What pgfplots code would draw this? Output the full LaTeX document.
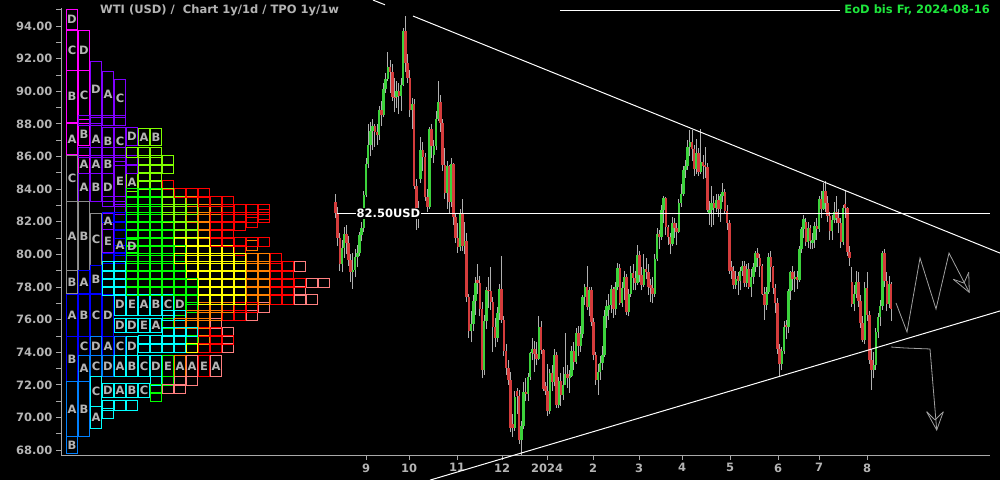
\documentclass[border=0pt]{standalone}
\usepackage{pgfplots}
\pgfplotsset{compat=1.18}
\usepackage{pgfplotstable}
\usepackage{fontspec}
\setmainfont{DejaVu Sans}
\setsansfont{DejaVu Sans}
\definecolor{axgray}{HTML}{A8A8A8}
\definecolor{lblgray}{HTML}{B4B4B4}
\definecolor{cgreen}{HTML}{3CD23C}
\definecolor{cred}{HTML}{D43C3C}
\definecolor{wickgray}{HTML}{B0B0B0}
\definecolor{eodgreen}{HTML}{1EE63C}
\definecolor{arrgray}{HTML}{A0A0A0}
\definecolor{tgr}{HTML}{8C8C8C}
\definecolor{tmg}{HTML}{FF00FF}
\definecolor{tvi}{HTML}{8000FF}
\definecolor{tbl}{HTML}{0000FF}
\definecolor{taz}{HTML}{0080FF}
\definecolor{tcy}{HTML}{00FFFF}
\definecolor{tgn}{HTML}{00FF00}
\definecolor{tch}{HTML}{80FF00}
\definecolor{tye}{HTML}{FFFF00}
\definecolor{tog}{HTML}{FF8000}
\definecolor{trd}{HTML}{FF0000}
\definecolor{tpk}{HTML}{FF8080}
\newcommand\txtfont{\fontsize{11.5}{13}\selectfont\bfseries}
\newcommand\tpoltr[1]{\color{lblgray}\txtfont #1}

\newcommand\tpocellsrow[1]{\foreach \k in {1,...,#1}{\pgfpathrectangle{\pgfpoint{(\k-1)*12pt+0.25pt}{-4.75pt}}{\pgfpoint{11.5pt}{9.5pt}}\pgfusepathqstroke}}
\pgfdeclareplotmark{tpo1}{\tpocellsrow{1}}
\pgfdeclareplotmark{tpo2}{\tpocellsrow{2}}
\pgfdeclareplotmark{tpo3}{\tpocellsrow{3}}
\pgfdeclareplotmark{tpo4}{\tpocellsrow{4}}
\pgfdeclareplotmark{tpo5}{\tpocellsrow{5}}
\pgfdeclareplotmark{tpo6}{\tpocellsrow{6}}
\pgfplotsset{tpogridplot/.style={scatter, only marks, mark=#1, line width=0.9pt,
  scatter src=explicit symbolic,
  scatter/classes={
  gr={draw=tgr}, mg={draw=tmg}, vi={draw=tvi},
  bl={draw=tbl}, az={draw=taz}, cy={draw=tcy},
  gn={draw=tgn}, ch={draw=tch}, ye={draw=tye},
  og={draw=tog}, rd={draw=trd}, pk={draw=tpk}}}}
\newcommand\tb[5]{\addplot[draw=#5,fill=black,line width=0.9pt,mark=none] coordinates {(#1,#3) (#2,#3) (#2,#4) (#1,#4) (#1,#3)};}

\pgfplotstableread{
i o h l c
0 83.19 83.70 82.20 82.51
1 82.51 82.90 80.50 80.99
2 80.99 81.30 79.00 79.38
3 79.38 80.90 78.90 80.39
4 80.39 81.70 79.80 81.25
5 81.25 81.80 80.00 80.72
6 80.72 81.10 79.30 79.64
7 79.64 80.00 78.30 78.89
8 78.89 80.10 77.90 79.05
9 79.05 80.30 78.60 79.83
10 79.83 80.60 79.20 80.10
11 80.10 81.40 79.90 81.16
12 81.16 82.00 80.80 81.63
13 81.63 83.90 81.40 83.63
14 83.63 85.90 83.50 85.55
15 85.55 88.00 85.30 86.69
16 86.69 88.10 86.00 87.54
17 87.54 88.30 86.40 87.87
18 87.87 88.00 86.60 87.51
19 87.51 88.00 86.70 87.29
20 87.29 89.10 87.00 88.84
21 88.84 89.40 87.90 88.52
22 88.52 90.50 88.40 90.16
23 90.16 91.10 89.90 90.77
24 90.77 92.40 90.60 91.48
25 91.48 91.90 89.90 91.20
26 91.20 91.70 89.40 89.66
27 89.66 90.80 88.70 89.63
28 89.63 90.60 89.00 90.03
29 90.03 90.50 88.60 89.68
30 89.68 90.80 88.80 90.39
31 90.39 93.90 90.30 93.68
32 93.68 94.60 91.20 91.71
33 91.71 92.30 90.50 90.79
34 90.79 91.30 88.40 88.82
35 88.82 89.60 87.70 89.23
36 89.23 89.50 84.00 84.22
37 84.22 84.60 81.50 82.31
38 82.31 83.30 81.60 82.79
39 84.60 87.20 84.40 86.38
40 86.38 86.90 85.10 85.97
41 85.97 86.20 83.30 83.49
42 83.49 84.00 82.60 82.91
43 82.91 87.80 82.80 87.69
44 87.69 88.00 85.90 86.66
45 86.10 87.00 85.60 86.66
46 86.66 88.80 86.40 88.32
47 88.32 90.60 88.20 89.37
48 89.37 89.80 87.50 88.08
49 88.08 88.30 85.10 85.49
50 85.49 86.50 83.40 83.74
51 83.74 85.70 82.80 85.39
52 85.39 85.50 82.50 83.21
53 83.21 85.90 82.90 85.54
54 85.54 85.60 81.80 82.31
55 82.31 82.50 80.70 81.02
56 81.02 81.90 80.10 80.44
57 80.44 82.80 80.20 82.46
58 82.46 83.40 80.20 80.51
59 80.51 82.00 80.00 80.82
60 80.82 81.30 77.10 77.37
61 77.37 77.60 74.90 75.33
62 75.33 76.50 74.60 75.74
63 75.74 77.50 75.30 77.17
64 77.17 78.60 76.30 78.26
65 78.40 79.40 77.60 78.26
66 78.26 78.70 76.20 76.66
67 76.66 77.10 72.40 72.90
68 72.90 76.30 72.60 75.89
69 75.89 78.00 75.40 77.83
70 77.83 78.60 76.70 77.77
71 77.77 79.20 76.60 77.10
72 77.10 77.40 74.00 75.54
73 75.54 76.10 74.30 74.86
74 74.86 76.80 74.60 76.41
75 76.41 78.20 76.00 77.86
76 77.86 79.90 75.80 75.96
77 75.96 76.20 73.80 74.07
78 74.07 74.50 72.60 73.04
79 73.04 73.50 72.00 72.32
80 72.32 72.80 69.10 69.38
81 69.60 70.20 68.80 69.34
82 69.34 71.60 69.20 71.23
83 71.60 71.80 70.20 71.32
84 71.32 71.70 68.40 68.61
85 68.61 69.80 67.70 69.47
86 69.47 72.20 69.30 71.58
87 71.58 72.40 71.00 71.43
88 71.43 72.70 71.00 72.47
89 72.47 74.00 72.30 73.94
90 73.94 74.90 73.50 74.22
91 74.22 74.70 72.80 73.89
92 73.89 74.60 73.20 73.56
93 73.56 76.20 73.50 75.57
94 75.57 75.90 73.90 74.11
95 74.11 74.20 71.60 71.77
96 71.90 72.20 71.40 71.65
97 71.65 73.30 70.10 70.38
98 70.38 73.00 70.20 72.70
99 72.70 73.20 71.60 72.19
100 72.19 74.20 71.90 73.81
101 73.81 74.00 70.60 70.77
102 70.77 72.50 70.60 72.24
103 72.24 72.70 70.70 71.37
104 71.37 73.10 71.10 72.02
105 72.02 75.20 72.00 72.68
106 72.68 73.20 71.80 72.40
107 72.40 72.90 71.50 72.56
108 72.56 74.40 72.50 74.08
109 74.08 74.60 72.90 73.41
110 73.41 75.50 73.30 75.19
111 75.19 75.60 73.80 74.37
112 74.37 75.60 74.00 75.09
113 75.09 77.50 74.90 77.36
114 77.36 78.20 76.90 78.01
115 78.01 79.30 76.60 76.78
116 76.78 78.00 76.20 77.82
117 77.82 78.00 75.60 75.85
118 75.85 76.10 73.50 73.82
119 73.82 74.00 72.00 72.28
120 72.28 73.30 71.40 72.78
121 72.78 73.80 72.30 73.31
122 73.31 74.40 72.90 73.86
123 73.86 76.60 73.70 76.22
124 76.22 77.20 75.50 76.84
125 76.60 77.60 76.00 76.92
126 76.92 78.10 76.40 77.87
127 77.87 78.00 76.10 76.64
128 76.64 78.30 76.30 78.03
129 78.03 79.50 77.80 79.19
130 79.19 79.40 76.90 77.04
131 77.04 78.30 76.80 77.91
132 77.91 79.00 77.20 78.61
133 78.61 78.80 76.30 76.49
134 76.49 77.90 76.20 77.58
135 77.58 79.30 77.40 78.87
136 78.87 79.40 77.80 78.54
137 78.54 79.00 77.80 78.26
138 78.26 80.60 78.10 79.97
139 79.97 80.20 78.30 78.74
140 78.74 79.20 77.80 78.15
141 78.15 80.00 78.00 79.13
142 79.13 79.80 78.50 78.93
143 78.93 79.40 77.50 78.01
144 78.10 78.50 77.10 77.93
145 77.93 78.60 77.00 77.56
146 77.56 80.00 77.40 79.72
147 79.72 81.60 79.60 81.26
148 81.26 81.50 80.30 81.04
149 81.04 83.00 80.90 82.72
150 82.72 83.60 81.90 83.47
151 83.47 83.50 81.20 81.68
152 81.68 81.80 80.60 81.07
153 81.07 81.30 80.00 80.63
154 80.63 82.30 80.50 81.95
155 81.95 82.20 81.00 81.62
156 81.62 81.90 80.60 81.35
157 81.35 83.40 81.30 83.17
158 83.17 84.30 82.90 83.71
159 83.71 85.40 83.60 85.15
160 85.15 85.80 84.70 85.43
161 85.43 87.00 85.20 86.59
162 86.59 87.60 86.00 86.91
163 86.91 87.60 85.70 86.43
164 86.43 86.70 84.80 85.23
165 85.23 87.10 84.90 86.21
166 86.21 86.50 84.80 85.02
167 85.02 87.70 84.90 85.66
168 85.66 86.10 84.60 85.41
169 85.50 86.60 84.70 85.36
170 85.36 85.60 82.60 82.69
171 82.50 83.30 81.80 82.73
172 82.73 84.20 81.70 83.14
173 83.14 83.60 81.80 82.85
174 82.85 83.70 82.60 83.36
175 83.36 83.70 82.30 82.81
176 82.81 83.70 82.00 83.57
177 83.57 84.40 83.20 83.85
178 83.85 84.00 82.50 82.63
179 82.63 83.00 81.50 81.93
180 81.93 82.10 78.80 79.00
181 79.20 79.60 78.50 78.95
182 78.95 79.30 77.90 78.11
183 78.11 79.00 77.90 78.48
184 78.70 78.90 77.50 78.38
185 78.38 79.20 77.80 78.99
186 78.99 79.60 78.70 79.26
187 79.26 79.60 78.00 78.26
188 78.26 79.40 78.00 79.12
189 79.12 79.50 77.90 78.02
190 78.02 79.10 77.40 78.63
191 78.63 79.50 78.20 79.23
192 79.23 80.20 78.90 80.06
193 80.06 80.40 79.20 79.80
194 79.80 80.00 78.60 79.26
195 79.26 79.40 77.50 77.57
196 77.57 78.00 76.00 76.87
197 76.87 78.00 76.60 77.72
198 77.72 80.10 77.60 79.83
199 79.83 80.20 78.30 79.23
200 79.23 79.30 77.60 77.91
201 77.91 78.20 76.40 76.99
202 76.99 77.30 73.90 74.22
203 74.22 74.50 72.50 73.25
204 73.25 74.30 72.90 74.07
205 74.07 75.90 73.90 75.55
206 75.70 76.00 74.80 75.53
207 75.53 77.90 75.20 77.74
208 77.74 79.00 77.20 78.90
209 78.90 79.30 77.80 78.50
210 78.50 79.00 77.70 78.62
211 78.62 79.00 77.90 78.45
212 78.45 80.50 78.30 80.33
213 80.33 81.70 80.10 81.57
214 81.57 82.40 81.00 82.17
215 82.00 82.20 80.50 80.73
216 80.73 82.00 80.40 81.63
217 81.63 81.80 80.30 80.83
218 80.70 81.30 80.30 80.90
219 80.90 82.00 80.40 81.74
220 81.74 82.20 80.90 81.54
221 81.54 83.60 81.40 83.38
222 83.38 83.90 82.20 82.81
223 82.81 84.40 82.70 83.88
224 83.88 84.50 82.60 83.16
225 83.16 83.60 82.00 82.33
226 82.33 82.60 80.90 81.41
227 81.41 82.40 80.90 82.10
228 82.10 83.20 81.90 82.62
229 82.62 83.60 81.90 82.21
230 82.21 82.80 81.30 81.91
231 81.91 82.20 80.40 80.76
232 80.76 83.00 80.60 82.85
233 83.10 83.90 82.20 82.82
234 82.82 82.90 79.90 80.13
235 80.13 80.50 79.30 79.78
236 78.30 79.20 76.80 76.96
237 76.96 78.10 76.50 77.59
238 77.59 79.00 77.30 78.28
239 78.28 78.90 76.80 77.16
240 77.16 77.50 75.50 75.81
241 75.81 76.20 74.60 74.73
242 74.73 78.30 74.50 77.91
243 77.91 78.90 75.90 76.31
244 76.31 76.50 73.30 73.52
245 73.52 74.20 71.70 72.94
246 72.94 74.00 72.40 73.20
247 73.20 75.50 72.90 75.23
248 75.23 76.40 74.90 76.19
249 76.19 77.20 75.60 76.84
250 76.84 80.20 76.60 80.06
251 80.06 80.30 78.00 78.35
252 78.35 78.90 76.50 76.98
253 76.98 78.70 76.70 78.16
254 78.16 78.30 75.90 76.65
}\candles
\pgfplotstablecreatecol[create col/expr={335.4+2.188*\thisrow{i}}]{xx}\candles
\pgfplotstablecreatecol[create col/expr={\thisrow{h}-\thisrow{l}}]{rng}\candles
\pgfplotstablecreatecol[create col/expr={min(\thisrow{o},\thisrow{c})}]{bot}\candles
\pgfplotstablecreatecol[create col/expr={max(\thisrow{c}-\thisrow{o},0)}]{up}\candles
\pgfplotstablecreatecol[create col/expr={max(\thisrow{o}-\thisrow{c},0)}]{dn}\candles

% TPO grid runs, grouped by run length (x = left edge, y = centre of row)
\pgfplotstableread{
x y k
162 84.25 rd
162 83.75 ch
186 83.25 og
114 82.75 vi
114 81.75 bl
198 81.75 og
114 81.25 bl
198 81.25 og
114 80.25 bl
234 80.25 rd
270 79.75 rd
294 79.25 pk
294 77.75 pk
186 77.25 gn
186 76.75 gn
258 76.75 pk
246 76.25 pk
162 75.75 gn
210 75.75 pk
222 75.25 pk
186 74.75 gn
198 74.75 og
186 74.25 ye
222 74.25 pk
150 72.25 cy
162 72.25 gn
150 71.75 gn
150 71.25 gn
102 70.25 cy
126 85.25 vi
258 82.45 rd
246 81.95 rd
246 80.55 og
}\tpoone
\pgfplotstableread{
x y k
114 85.75 vi
138 84.75 ch
138 84.25 ch
102 83.25 vi
162 83.25 ch
198 82.75 og
102 82.25 bl
162 82.25 ch
186 82.25 og
174 81.75 ch
174 81.25 ch
210 81.25 rd
102 79.75 bl
246 79.75 og
102 79.25 cy
246 79.25 og
270 79.25 rd
102 78.75 cy
246 78.75 og
270 78.75 rd
102 78.25 cy
246 78.25 og
306 78.25 pk
102 77.75 cy
246 77.75 og
270 77.75 rd
246 77.25 og
270 77.25 rd
294 77.25 pk
234 76.75 rd
162 76.25 cy
222 76.25 rd
198 75.25 rd
210 74.75 rd
198 74.25 rd
174 72.25 pk
162 71.75 pk
}\tpotwo
\pgfplotstableread{
x y k
126 86.25 ch
138 85.75 ch
138 85.25 ch
126 83.75 gn
174 83.75 rd
126 83.25 gn
198 83.25 rd
126 82.75 gn
162 82.75 ch
126 82.25 gn
210 81.75 rd
174 80.75 ye
198 76.75 og
186 76.25 og
174 75.75 og
162 75.25 cy
102 70.75 cy
270 78.25 rd
}\tpothree
\pgfplotstableread{
x y k
78 88.2 vi
78 86.25 vi
222 82.75 rd
126 81.75 gn
126 81.25 gn
126 80.75 gn
186 80.25 ye
126 79.75 gn
198 78.25 ye
198 77.75 ye
198 77.25 ye
138 74.75 cy
138 74.25 cy
}\tpofour
\pgfplotstableread{
x y k
210 82.25 rd
210 80.75 rd
126 80.25 gn
126 79.25 gn
186 79.25 ye
126 78.75 gn
186 78.75 ye
}\tpofive
\pgfplotstableread{
x y k
174 79.75 ye
126 78.25 gn
126 77.75 gn
}\tposix

% letters of the TPO boxes (x = box centre, y = box centre)
\pgfplotstableread{
x y L
72 94.4 D
72 92.505 C
72 89.665 B
72 87.08 A
72 84.66 C
72 81.115 A
72 78.3 B
72 76.25 A
72 73.57 B
72 70.505 A
72 68.31 B
84 92.505 D
84 89.78 C
84 87.365 B
84 85.53 A
84 84.10 A
84 81.115 B
84 78.3 A
84 76.25 B
84 74.385 C
84 73.005 A
84 70.505 B
96 90.125 D
96 87.06 A
96 85.53 A
96 84.10 B
96 80.935 C
96 78.475 B
96 76.25 C
96 74.385 D
96 73.16 C
96 71.58 C
96 69.995 A
108 89.8 A
108 86.945 B
108 85.53 B
108 84.10 D
108 82.01 A
108 80.8 E
108 76.25 D
108 74.385 A
108 73.16 D
108 71.675 D
120 89.55 C
120 86.945 C
120 84.455 E
120 80.55 A
120 76.91 D
120 75.65 D
120 74.385 C
120 73.16 A
120 71.675 A
132 87.25 D
132 84.405 A
132 80.5 D
132 76.91 E
132 75.65 D
132 74.385 D
132 73.16 B
132 71.675 B
144 87.2 A
144 76.91 A
144 75.65 E
144 73.16 C
144 71.675 C
156 87.2 B
156 76.91 B
156 75.65 A
156 73.16 D
168 76.91 C
168 73.16 E
180 76.91 D
180 73.16 A
192 73.16 A
204 73.16 E
216 73.16 A
}\tpoletters

\begin{document}
\begin{tikzpicture}
\useasboundingbox (0,0) rectangle (1000pt,480pt);
\fill[black] (0,0) rectangle (1000pt,480pt);
\begin{axis}[
  at={(61pt,25pt)}, anchor=south west,
  scale only axis, width=929pt, height=455pt,
  xmin=61, xmax=990, ymin=67.70, ymax=95.594,
  clip=false,
  axis x line*=bottom, axis y line*=left,
  axis line style={draw=axgray, line width=1pt},
  tick align=outside,
  major tick length=5pt, minor tick length=5pt,
  tick style={draw=axgray, line width=0.8pt},
  ytick={68,70,...,94}, minor ytick={69,71,...,95},
  yticklabel style={text=lblgray, font=\txtfont, /pgf/number format/.cd, fixed, fixed zerofill, precision=2, assume math mode=true},
  xtick={366,409,457,502,547,593,639,682,730,778,819,867},
  xticklabels={9,10,11,12,2024,2,3,4,5,6,7,8},
  xticklabel style={text=lblgray, font=\txtfont},
]
% hide the top of the y axis line above 95
\addplot[black, line width=3pt, mark=none] coordinates {(61,95.08) (61,95.7)};
% TPO grid
\addplot[tpogridplot=tpo1] table[x=x, y=y, meta=k]{\tpoone};
\addplot[tpogridplot=tpo2] table[x=x, y=y, meta=k]{\tpotwo};
\addplot[tpogridplot=tpo3] table[x=x, y=y, meta=k]{\tpothree};
\addplot[tpogridplot=tpo4] table[x=x, y=y, meta=k]{\tpofour};
\addplot[tpogridplot=tpo5] table[x=x, y=y, meta=k]{\tpofive};
\addplot[tpogridplot=tpo6] table[x=x, y=y, meta=k]{\tposix};

% TPO letter boxes: x0 x1 ylow yhigh colour
\tb{66.25}{77.75}{93.8}{95.0}{tmg}
\tb{66.25}{77.75}{91.26}{93.75}{tmg}
\tb{66.25}{77.75}{88.07}{91.26}{tmg}
\tb{66.25}{77.75}{86.13}{88.03}{tmg}
\tb{66.25}{77.75}{83.23}{86.09}{tgr}
\tb{66.25}{77.75}{79.0}{83.23}{tgr}
\tb{66.25}{77.75}{77.6}{79.0}{tgr}
\tb{66.25}{77.75}{74.95}{77.55}{tbl}
\tb{66.25}{77.75}{72.19}{74.95}{tbl}
\tb{66.25}{77.75}{68.82}{72.19}{taz}
\tb{66.25}{77.75}{67.8}{68.82}{taz}
\tb{78.25}{89.75}{91.26}{93.75}{tmg}
\tb{78.25}{89.75}{88.3}{91.26}{tmg}
\tb{78.25}{89.75}{86.7}{88.03}{tmg}
\tb{78.25}{89.75}{84.97}{86.09}{tmg}
\tb{78.25}{89.75}{83.23}{84.97}{tvi}
\tb{78.25}{89.75}{79.0}{83.23}{tgr}
\tb{78.25}{89.75}{77.6}{79.0}{tbl}
\tb{78.25}{89.75}{74.95}{77.55}{tbl}
\tb{78.25}{89.75}{73.82}{74.95}{tbl}
\tb{78.25}{89.75}{72.19}{73.82}{taz}
\tb{78.25}{89.75}{68.82}{72.19}{taz}
\tb{90.25}{101.75}{88.4}{91.85}{tvi}
\tb{90.25}{101.75}{86.09}{88.03}{tvi}
\tb{90.25}{101.75}{84.97}{86.09}{tvi}
\tb{90.25}{101.75}{83.23}{84.97}{tvi}
\tb{90.25}{101.75}{79.35}{82.52}{tgr}
\tb{90.25}{101.75}{77.6}{79.35}{tbl}
\tb{90.25}{101.75}{74.95}{77.55}{tbl}
\tb{90.25}{101.75}{73.82}{74.95}{taz}
\tb{90.25}{101.75}{72.5}{73.82}{taz}
\tb{90.25}{101.75}{70.66}{72.5}{tcy}
\tb{90.25}{101.75}{69.33}{70.66}{tcy}
\tb{102.25}{113.75}{88.4}{91.2}{tvi}
\tb{102.25}{113.75}{86.09}{87.8}{tvi}
\tb{102.25}{113.75}{84.97}{86.09}{tvi}
\tb{102.25}{113.75}{83.23}{84.97}{tvi}
\tb{102.25}{113.75}{81.5}{82.52}{tvi}
\tb{102.25}{113.75}{80.1}{81.5}{tvi}
\tb{102.25}{113.75}{74.95}{77.55}{tbl}
\tb{102.25}{113.75}{73.82}{74.95}{tbl}
\tb{102.25}{113.75}{72.5}{73.82}{taz}
\tb{102.25}{113.75}{71.25}{72.1}{tcy}
\tb{114.25}{125.75}{88.4}{90.7}{tvi}
\tb{114.25}{125.75}{86.09}{87.8}{tvi}
\tb{114.25}{125.75}{83.23}{85.68}{tvi}
\tb{114.25}{125.75}{80.1}{81.0}{tbl}
\tb{114.25}{125.75}{76.27}{77.55}{tcy}
\tb{114.25}{125.75}{75.2}{76.1}{tcy}
\tb{114.25}{125.75}{73.82}{74.95}{taz}
\tb{114.25}{125.75}{72.5}{73.82}{tcy}
\tb{114.25}{125.75}{71.25}{72.1}{tcy}
\tb{126.25}{137.75}{86.7}{87.8}{tvi}
\tb{126.25}{137.75}{83.84}{84.97}{tch}
\tb{126.25}{137.75}{80.1}{80.9}{tgn}
\tb{126.25}{137.75}{76.27}{77.55}{tcy}
\tb{126.25}{137.75}{75.2}{76.1}{tcy}
\tb{126.25}{137.75}{73.82}{74.95}{tcy}
\tb{126.25}{137.75}{72.5}{73.82}{tcy}
\tb{126.25}{137.75}{71.25}{72.1}{tcy}
\tb{138.25}{149.75}{86.7}{87.7}{tch}
\tb{138.25}{149.75}{76.27}{77.55}{tcy}
\tb{138.25}{149.75}{75.2}{76.1}{tcy}
\tb{138.25}{149.75}{72.5}{73.82}{tcy}
\tb{138.25}{149.75}{71.25}{72.1}{tcy}
\tb{150.25}{161.75}{86.7}{87.7}{tch}
\tb{150.25}{161.75}{76.27}{77.55}{tcy}
\tb{150.25}{161.75}{75.2}{76.1}{tcy}
\tb{150.25}{161.75}{72.5}{73.82}{tcy}
\tb{162.25}{173.75}{76.27}{77.55}{tcy}
\tb{162.25}{173.75}{72.5}{73.82}{tgn}
\tb{174.25}{185.75}{76.27}{77.55}{tgn}
\tb{174.25}{185.75}{72.5}{73.82}{tog}
\tb{186.25}{197.75}{72.5}{73.82}{tpk}
\tb{198.25}{209.75}{72.5}{73.82}{trd}
\tb{210.25}{221.75}{72.5}{73.82}{tpk}

% letters
\addplot[scatter, only marks, scatter src=explicit symbolic,
  scatter/classes={
    A={mark=text, text mark={\tpoltr{A}}},
    B={mark=text, text mark={\tpoltr{B}}},
    C={mark=text, text mark={\tpoltr{C}}},
    D={mark=text, text mark={\tpoltr{D}}},
    E={mark=text, text mark={\tpoltr{E}}}}]
  table[x=x, y=y, meta=L]{\tpoletters};

% wicks
\addplot[draw=none, mark=none,
  error bars/.cd, y dir=plus, y explicit, error mark=none,
  error bar style={draw=wickgray, line width=0.9pt}]
  table[x=xx, y=l, y error plus=rng]{\candles};
% bodies up (zero length for down candles)
\addplot[draw=none, mark=none,
  error bars/.cd, y dir=plus, y explicit, error mark=none,
  error bar style={draw=cgreen, line width=2.5pt}]
  table[x=xx, y=bot, y error plus=up]{\candles};
% bodies down (zero length for up candles)
\addplot[draw=none, mark=none,
  error bars/.cd, y dir=plus, y explicit, error mark=none,
  error bar style={draw=cred, line width=2.5pt}]
  table[x=xx, y=bot, y error plus=dn]{\candles};

% lines
\addplot[white, line width=1pt, mark=none] coordinates {(337,82.5) (990,82.5)};
\addplot[white, line width=1pt, mark=none] coordinates {(413,94.61) (1000,80.08)};
\addplot[white, line width=1pt, mark=none] coordinates {(430,66.16) (1000,76.53)};
\addplot[white, line width=1pt, mark=none] coordinates {(373,95.59) (385,95.30)};
\addplot[white, line width=1pt, mark=none] coordinates {(560,94.98) (840,94.98)};
% forecast arrows
\addplot[arrgray, line width=0.8pt, mark=none] coordinates {(896,77.02) (907,75.24) (920,79.78) (936,76.65) (949,80.08) (969.3,77.67)};
\addplot[arrgray, line width=0.8pt, mark=none] coordinates {(953.3,78.47) (969.3,77.67) (968.7,78.90)};
\addplot[arrgray, line width=0.8pt, mark=none] coordinates {(953.3,78.47) (964,78.24) (968.7,78.90)};
\addplot[arrgray, line width=0.8pt, mark=none] coordinates {(891,74.32) (905,74.26) (930,74.20) (936.7,69.23)};
\addplot[arrgray, line width=0.8pt, mark=none] coordinates {(926.7,70.35) (936.7,69.23) (943.3,70.35)};
\addplot[arrgray, line width=0.8pt, mark=none] coordinates {(926.7,70.35) (935,69.85) (943.3,70.35)};

\node[fill=black, text=white, font=\txtfont, inner sep=1pt] at (axis cs:388.5,82.5) {82.50USD};
\node[anchor=west, text=lblgray, font=\txtfont, inner sep=0pt] at (axis cs:100,94.98) {WTI (USD) /\ \ Chart 1y/1d / TPO 1y/1w};
\node[anchor=east, text=eodgreen, font=\txtfont, inner sep=0pt] at (axis cs:990,94.98) {EoD bis Fr, 2024-08-16};
\end{axis}
\end{tikzpicture}
\end{document}
